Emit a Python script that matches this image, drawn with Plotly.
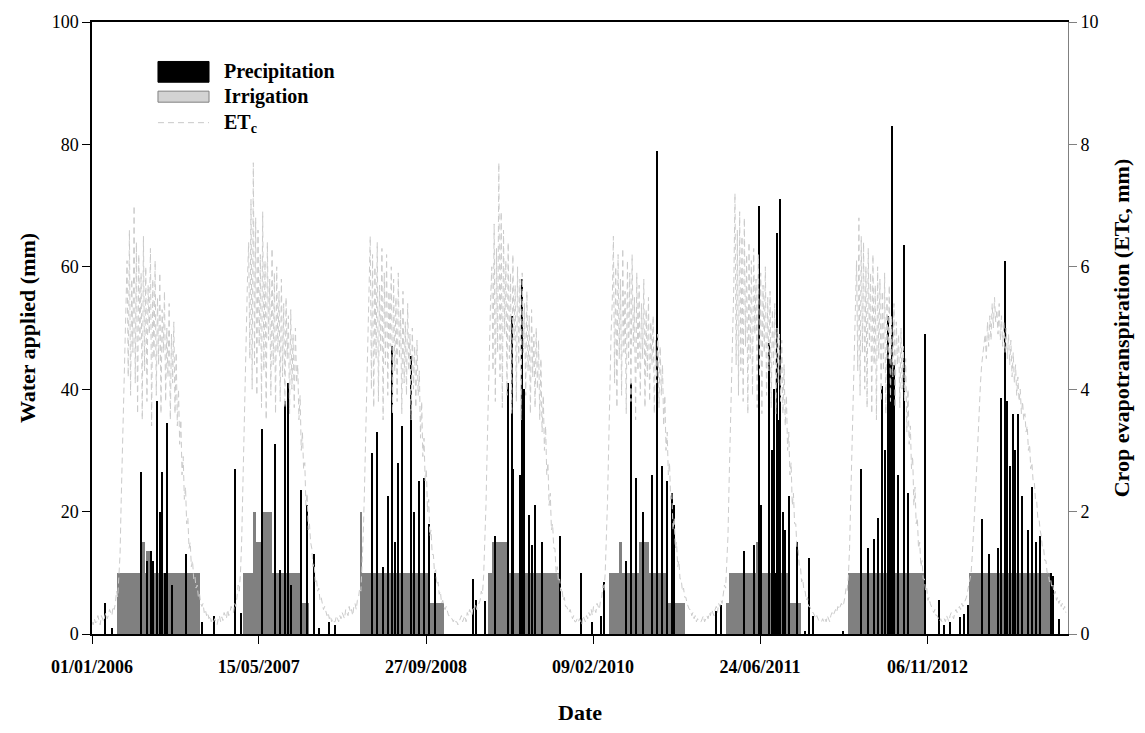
import pandas as pd
import plotly.graph_objects as go

# ---------------- data ----------------
# Crop evapotranspiration (mm/day), every half week, one list per year
etc_2006 = [0.2, 0.15, 0.25, 0.18, 0.2, 0.3, 0.22, 0.15, 0.3, 0.25, 0.2, 0.3, 0.35, 0.25, 0.3, 0.4, 0.35, 0.3, 0.45, 0.4,
            0.5, 0.7, 0.6, 0.9,
            1.3, 2.2, 3.0, 4.1, 4.8, 5.5,
            6.1, 4.2, 6.6, 3.9, 5.8, 4.6, 7.0, 4.1, 6.4, 3.6, 6.2, 4.8, 5.9, 3.5, 6.5, 4.3, 6.0, 3.8, 5.7, 4.9, 6.3,
            3.4, 5.8, 4.5, 6.1, 3.9, 5.5, 4.4, 5.9, 3.6, 5.3, 4.6, 5.6, 3.8, 5.0, 4.2, 5.4, 3.5, 4.9, 4.1, 5.1, 3.6,
            4.6, 3.4, 4.0, 3.1, 3.5, 2.6, 2.9, 2.2, 2.4, 1.8, 1.9, 1.4, 1.5, 1.1, 1.2, 0.9, 0.95, 0.75,
            0.8, 0.6, 0.65, 0.5, 0.45, 0.5, 0.35, 0.4, 0.3, 0.35, 0.25, 0.3, 0.2, 0.25]
etc_2007 = [0.2, 0.25, 0.18, 0.15, 0.25, 0.3, 0.2, 0.28, 0.22, 0.35, 0.3, 0.25, 0.4, 0.3, 0.35, 0.45, 0.4, 0.35, 0.5, 0.45,
            0.6, 0.8, 0.7, 1.0,
            1.5, 2.4, 3.3, 4.3, 5.1, 5.8,
            6.4, 4.5, 7.1, 4.0, 7.7, 4.4, 6.8, 3.9, 6.6, 4.7, 6.2, 3.7, 6.9, 4.3, 6.1, 3.5, 6.4, 4.8, 5.8, 3.9, 6.3,
            4.4, 5.9, 3.6, 6.0, 4.6, 5.6, 3.8, 5.8, 4.2, 5.4, 3.7, 5.5, 4.5, 5.2, 3.6, 5.3, 4.0, 4.9, 3.7, 5.0, 4.1,
            4.4, 3.5, 3.9, 3.0, 3.3, 2.7, 2.8, 2.1, 2.3, 1.7, 1.8, 1.5, 1.4, 1.1, 1.15, 0.85, 0.9, 0.7,
            0.75, 0.55, 0.6, 0.5, 0.4, 0.45, 0.35, 0.3, 0.35, 0.25, 0.3, 0.2, 0.25, 0.2]
etc_2008 = [0.2, 0.3, 0.25, 0.2, 0.3, 0.25, 0.35, 0.3, 0.25, 0.4, 0.35, 0.3, 0.45, 0.35, 0.4, 0.3, 0.45, 0.5, 0.4, 0.55,
            0.6, 0.75, 0.7, 1.1,
            1.6, 2.3, 3.1, 4.0, 4.7, 5.3,
            6.5, 4.0, 6.2, 3.7, 6.0, 4.5, 6.4, 3.8, 5.7, 4.6, 6.3, 3.5, 5.9, 4.4, 6.2, 3.9, 5.6, 4.7, 6.0, 3.6, 5.8,
            4.3, 5.5, 3.8, 5.9, 4.5, 5.3, 3.6, 5.6, 4.1, 5.1, 3.9, 5.4, 4.3, 4.9, 3.5, 5.0, 4.0, 4.7, 3.7, 4.8, 3.9,
            4.3, 3.2, 3.8, 2.9, 3.2, 2.5, 2.7, 2.0, 2.2, 1.6, 1.7, 1.3, 1.3, 1.0, 1.05, 0.8, 0.85, 0.65,
            0.7, 0.5, 0.55, 0.45, 0.4, 0.45, 0.35, 0.3, 0.3, 0.25, 0.25, 0.2, 0.25, 0.2]
etc_2009 = [0.2, 0.15, 0.2, 0.25, 0.3, 0.2, 0.25, 0.3, 0.2, 0.35, 0.3, 0.4, 0.35, 0.3, 0.45, 0.4, 0.5, 0.4, 0.45, 0.5,
            0.55, 0.7, 0.65, 0.95,
            1.4, 2.1, 3.0, 4.0, 4.8, 5.5,
            6.0, 4.3, 6.7, 3.8, 6.3, 4.6, 7.7, 4.2, 6.9, 3.7, 6.6, 4.9, 6.1, 3.9, 6.4, 4.5, 5.9, 3.6, 6.2, 4.8, 5.7,
            3.8, 6.0, 4.4, 5.8, 3.5, 5.9, 4.6, 5.4, 3.9, 5.6, 4.3, 5.2, 3.6, 5.3, 4.2, 4.9, 3.7, 5.0, 4.0, 4.8, 3.5,
            4.5, 3.3, 3.9, 3.0, 3.4, 2.6, 2.8, 2.1, 2.3, 1.7, 1.8, 1.4, 1.4, 1.0, 1.1, 0.85, 0.9, 0.7,
            0.75, 0.55, 0.6, 0.45, 0.45, 0.4, 0.35, 0.4, 0.3, 0.25, 0.3, 0.2, 0.2, 0.25]
etc_2010 = [0.2, 0.25, 0.2, 0.15, 0.3, 0.25, 0.2, 0.3, 0.25, 0.35, 0.3, 0.4, 0.3, 0.45, 0.4, 0.35, 0.5, 0.45, 0.4, 0.55,
            0.6, 0.8, 0.7, 1.0,
            1.5, 2.2, 3.1, 4.1, 4.9, 5.4,
            6.5, 4.1, 6.0, 3.7, 6.2, 4.5, 5.8, 3.9, 6.3, 4.6, 5.6, 3.6, 6.1, 4.4, 5.9, 3.8, 6.2, 4.7, 5.5, 3.5, 5.9,
            4.3, 5.7, 3.9, 5.4, 4.5, 5.8, 3.7, 5.3, 4.2, 5.5, 3.8, 5.1, 4.4, 5.2, 3.6, 4.8, 4.1, 4.9, 3.7, 4.7, 3.9,
            4.4, 3.4, 3.9, 3.0, 3.3, 2.6, 2.8, 2.2, 2.3, 1.7, 1.9, 1.4, 1.5, 1.1, 1.2, 0.9, 0.9, 0.7,
            0.75, 0.6, 0.6, 0.5, 0.45, 0.4, 0.4, 0.3, 0.35, 0.25, 0.3, 0.2, 0.25, 0.2]
etc_2011 = [0.2, 0.2, 0.25, 0.3, 0.2, 0.25, 0.3, 0.25, 0.35, 0.3, 0.4, 0.35, 0.3, 0.4, 0.45, 0.35, 0.5, 0.45, 0.55, 0.5,
            0.65, 0.8, 0.75, 1.1,
            1.6, 2.5, 3.4, 4.4, 5.1, 5.7,
            7.2, 4.4, 6.6, 3.9, 6.9, 4.3, 6.5, 3.8, 6.8, 4.7, 6.2, 3.6, 6.4, 4.5, 6.1, 3.9, 6.3, 4.9, 5.8, 3.7, 6.2,
            4.2, 5.9, 3.6, 5.7, 4.6, 6.0, 3.9, 5.5, 4.3, 5.6, 3.7, 5.3, 4.4, 5.4, 3.6, 5.0, 4.1, 4.9, 3.8, 4.8, 3.6,
            4.4, 3.4, 3.9, 3.0, 3.3, 2.6, 2.8, 2.1, 2.3, 1.8, 1.8, 1.4, 1.4, 1.1, 1.1, 0.85, 0.9, 0.7,
            0.7, 0.55, 0.6, 0.45, 0.45, 0.4, 0.35, 0.35, 0.3, 0.25, 0.3, 0.25, 0.2, 0.2]
etc_2012 = [0.2, 0.25, 0.2, 0.25, 0.2, 0.3, 0.25, 0.2, 0.3, 0.35, 0.3, 0.35, 0.4, 0.35, 0.45, 0.4, 0.45, 0.5, 0.45, 0.5,
            0.6, 0.75, 0.7, 0.95,
            1.4, 2.2, 3.0, 4.0, 4.8, 5.4,
            6.1, 4.3, 6.8, 3.9, 6.5, 4.6, 6.4, 4.0, 6.0, 3.7, 6.3, 4.7, 5.9, 3.6, 6.2, 4.4, 5.7, 3.5, 6.0, 4.5, 5.8,
            3.8, 5.6, 4.3, 5.9, 3.6, 5.5, 4.5, 5.7, 3.8, 5.2, 4.2, 5.4, 3.7, 5.1, 4.4, 4.9, 3.7, 5.0, 4.0, 4.7, 3.8,
            4.5, 3.3, 4.0, 3.1, 3.4, 2.7, 2.9, 2.1, 2.4, 1.8, 1.9, 1.4, 1.5, 1.1, 1.2, 0.9, 0.9, 0.7,
            0.75, 0.55, 0.6, 0.5, 0.45, 0.4, 0.35, 0.4, 0.3, 0.3, 0.25, 0.2, 0.25, 0.2]
etc_2013 = [0.2, 0.25, 0.2, 0.3, 0.25, 0.2, 0.3, 0.35, 0.3, 0.25, 0.35, 0.4, 0.35, 0.4, 0.45, 0.4, 0.5, 0.45, 0.5, 0.55,
            0.6, 0.7, 0.8, 0.9, 1.0, 1.3, 1.6, 2.0, 2.4, 2.9, 3.3, 3.8, 4.1, 4.4, 4.6, 4.8,
            4.9, 4.5, 5.1, 4.7, 5.2, 4.8, 5.4, 5.0, 5.5, 5.1, 5.3, 4.9, 5.4, 4.8, 5.2, 4.7, 5.1, 4.6, 5.0, 4.5, 4.9,
            4.4, 4.8, 4.2, 4.6, 4.1, 4.4, 3.9, 4.2, 3.8, 4.0, 3.6, 3.8, 3.5,
            3.6, 3.3, 3.4, 3.0, 3.1, 2.7, 2.8, 2.5, 2.5, 2.2, 2.2, 1.9, 1.9, 1.7, 1.6, 1.4, 1.4, 1.2, 1.2, 1.0, 1.0, 0.85,
            0.9, 0.75, 0.8, 0.65, 0.7, 0.55, 0.6, 0.5, 0.55, 0.45, 0.5, 0.4, 0.45, 0.35]

# Precipitation events (mm)
precip_dates = [
    "2006-02-09", "2006-03-03", "2006-05-29", "2006-06-15", "2006-06-26", "2006-07-03", "2006-07-15",
    "2006-07-23", "2006-07-31", "2006-08-07", "2006-08-15", "2006-08-29", "2006-10-09", "2006-11-25",
    "2007-01-02", "2007-03-04", "2007-03-22", "2007-05-24", "2007-07-02", "2007-07-17", "2007-08-01",
    "2007-08-11", "2007-08-21", "2007-09-20", "2007-10-08", "2007-10-29", "2007-11-13", "2007-12-13",
    "2007-12-30",
    "2008-04-19", "2008-05-04", "2008-05-20", "2008-06-05", "2008-06-18", "2008-06-27", "2008-07-05",
    "2008-07-17", "2008-08-13", "2008-08-21", "2008-09-07", "2008-09-20", "2008-10-05", "2008-10-24",
    "2009-02-14", "2009-02-24", "2009-03-23", "2009-04-22", "2009-05-29", "2009-06-11", "2009-06-15",
    "2009-07-05", "2009-07-11", "2009-07-17", "2009-07-31", "2009-08-09", "2009-08-20", "2009-09-09",
    "2009-11-01",
    "2010-01-03", "2010-02-07", "2010-03-04", "2010-03-15", "2010-05-18", "2010-06-02", "2010-06-17",
    "2010-07-09", "2010-08-06", "2010-08-21", "2010-09-02", "2010-09-19", "2010-10-02", "2010-10-09",
    "2011-02-11", "2011-02-26", "2011-05-07", "2011-06-05", "2011-06-20", "2011-06-28", "2011-07-22",
    "2011-07-29", "2011-08-04", "2011-08-09", "2011-08-14", "2011-08-19", "2011-08-24", "2011-08-31",
    "2011-09-06", "2011-09-18", "2011-10-13", "2011-11-05", "2011-11-17", "2011-11-30",
    "2012-02-27", "2012-04-22", "2012-05-12", "2012-05-29", "2012-06-10", "2012-06-23", "2012-07-03",
    "2012-07-11", "2012-07-18", "2012-07-23", "2012-07-28", "2012-08-10", "2012-08-27", "2012-09-09",
    "2012-10-30", "2012-12-11", "2012-12-26",
    "2013-01-13", "2013-02-12", "2013-02-25", "2013-03-07", "2013-04-18", "2013-05-08", "2013-06-05",
    "2013-06-15", "2013-06-25", "2013-07-02", "2013-07-12", "2013-07-20", "2013-07-27", "2013-08-05",
    "2013-08-15", "2013-09-04", "2013-09-14", "2013-09-26", "2013-10-09", "2013-11-10", "2013-11-18",
    "2013-12-06",
]
precip_mm = [
    5, 1, 26.5, 12, 13.5, 12, 38,
    20, 26.5, 10, 34.5, 8, 13, 2,
    3, 27, 3.5, 33.5, 31, 10.5, 38,
    41, 8, 23.5, 21, 13, 1, 2,
    1.5,
    29.5, 33, 11, 22.5, 47, 15, 28,
    34, 45.5, 20, 25, 25.5, 18, 10,
    9, 5.5, 5.4, 16, 41, 52, 27,
    26, 58, 40, 19.5, 14.5, 21, 15,
    16,
    10, 2, 3, 8.5, 12, 41, 25.5,
    20, 26, 79, 27.5, 25, 23, 21,
    3.7, 4.7, 13.5, 14.5, 70, 21, 47.5,
    30, 40, 10, 65.5, 35, 71, 20,
    17, 22.5, 15, 0.5, 12.5, 3,
    0.5, 27, 14, 15.5, 19, 40.5, 30,
    52, 45, 83, 44, 26, 63.5, 23,
    49, 5.5, 1.5,
    2, 2.8, 3.2, 4.8, 18.8, 13, 14,
    38.5, 61, 38, 27.5, 36, 30, 36,
    22.5, 17, 24, 15, 16, 10, 9.5,
    2.5,
]

# Irrigation periods (start, end, mm applied)
irr_start = ["2006-03-16", "2006-05-29", "2006-06-13",
             "2007-03-29", "2007-04-28", "2007-05-07", "2007-05-26", "2007-09-15",
             "2008-03-15", "2008-03-18", "2008-10-07",
             "2009-03-31", "2009-04-14",
             "2010-03-29", "2010-04-28", "2010-06-27", "2010-09-15",
             "2011-03-13", "2011-03-23", "2011-06-12", "2011-09-18",
             "2012-03-13",
             "2013-03-11"]
irr_end = ["2006-11-20", "2006-06-10", "2006-06-28",
           "2007-09-15", "2007-05-06", "2007-05-22", "2007-06-25", "2007-10-13",
           "2008-03-18", "2008-10-07", "2008-11-21",
           "2009-10-31", "2009-05-28",
           "2010-09-15", "2010-05-08", "2010-07-27", "2010-11-11",
           "2011-03-23", "2011-09-18", "2011-06-16", "2011-10-26",
           "2012-10-26",
           "2013-11-08"]
irr_mm = [10, 15, 13.5,
          10, 20, 15, 20, 5,
          20, 10, 5,
          10, 15,
          10, 15, 15, 5,
          5, 10, 15, 5,
          10,
          10]

tick_dates = ["2006-01-01", "2007-05-15", "2008-09-27", "2010-02-09", "2011-06-24", "2012-11-06"]
tick_labels = ["01/01/2006", "15/05/2007", "27/09/2008", "09/02/2010", "24/06/2011", "06/11/2012"]

# ---------------- figure ----------------
etc_values = etc_2006 + etc_2007 + etc_2008 + etc_2009 + etc_2010 + etc_2011 + etc_2012 + etc_2013
etc_dates = pd.date_range("2006-01-01", periods=len(etc_values), freq="84h")

s = pd.to_datetime(irr_start)
e = pd.to_datetime(irr_end)
irr_mid = s + (e - s) / 2
irr_width = [(b - a).total_seconds() * 1000 for a, b in zip(s, e)]

DAY_MS = 86400000
FONT = "Liberation Serif"

fig = go.Figure()
fig.add_trace(go.Bar(x=irr_mid, y=irr_mm, width=irr_width, marker=dict(color="#808080", line=dict(width=0)),
                     name="Irrigation"))
fig.add_trace(go.Bar(x=pd.to_datetime(precip_dates), y=precip_mm, width=[6 * DAY_MS] * len(precip_mm),
                     marker=dict(color="black", line=dict(width=0)), name="Precipitation"))
fig.add_trace(go.Scatter(x=etc_dates, y=etc_values, yaxis="y2", mode="lines",
                         line=dict(color="#cbcbcb", width=1, dash="6px,4px"), name="ETc"))

fig.update_layout(
    width=1145, height=733,
    margin=dict(l=92, r=77, t=21, b=92),
    plot_bgcolor="white", paper_bgcolor="white",
    barmode="overlay", bargap=0, showlegend=False,
    font=dict(family=FONT, size=18, color="black"),
    xaxis=dict(type="date", range=["2006-01-01", "2014-01-01"],
               tickvals=tick_dates, ticktext=["<b>%s</b>" % t for t in tick_labels],
               ticks="outside", ticklen=8, tickcolor="black", ticklabelstandoff=8,
               showline=True, linecolor="black", linewidth=1.5, mirror=True,
               showgrid=False, zeroline=False,
               title=dict(text="<b>Date</b>", standoff=28)),
    yaxis=dict(range=[0, 100], tickvals=[0, 20, 40, 60, 80, 100],
               ticks="outside", ticklen=8, tickcolor="black",
               showline=True, linecolor="black", linewidth=1.5,
               showgrid=False, zeroline=False,
               title=dict(text="<b>Water applied (mm)</b>", standoff=10)),
    yaxis2=dict(range=[0, 10], tickvals=[0, 2, 4, 6, 8, 10], overlaying="y", side="right",
                ticks="outside", ticklen=8, tickcolor="#808080",
                showline=True, linecolor="#808080", linewidth=1,
                showgrid=False, zeroline=False,
                title=dict(text="<b>Crop evapotranspiration (ETc, mm)</b>", standoff=16)),
)

# legend drawn in the upper left of the plot area
fig.add_shape(type="rect", xref="paper", yref="paper", x0=0.0676, x1=0.1199, y0=0.9016, y1=0.9355,
              fillcolor="black", line=dict(color="black", width=1))
fig.add_shape(type="rect", xref="paper", yref="paper", x0=0.0676, x1=0.1199, y0=0.869, y1=0.887,
              fillcolor="#d3d3d3", line=dict(color="#808080", width=1))
fig.add_shape(type="line", xref="paper", yref="paper", x0=0.0676, x1=0.1199, y0=0.8355, y1=0.8355,
              line=dict(color="#c8c8c8", width=1, dash="6px,4px"))
for txt, yy in [("<b>Precipitation</b>", 0.919), ("<b>Irrigation</b>", 0.878), ("<b>ET<sub>c</sub></b>", 0.834)]:
    fig.add_annotation(text=txt, xref="paper", yref="paper", x=0.133, y=yy, xanchor="left", yanchor="middle",
                       showarrow=False, font=dict(family=FONT, size=20, color="black"))

fig.write_html("out.html")
